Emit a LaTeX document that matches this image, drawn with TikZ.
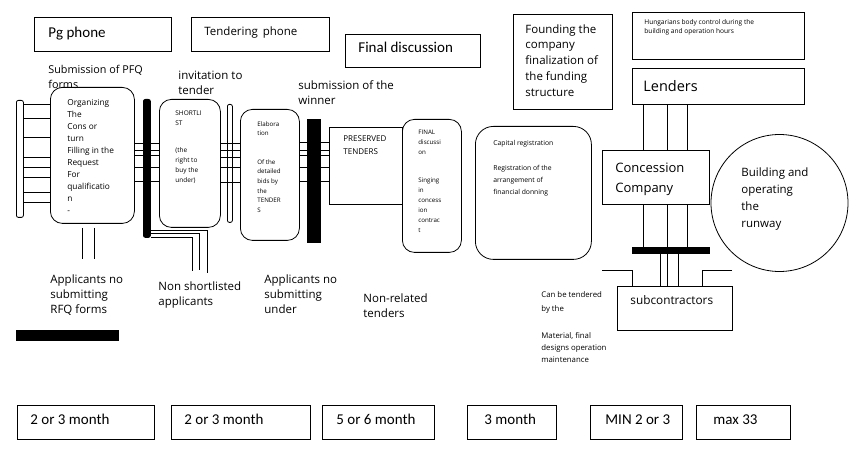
\documentclass[tikz,border=0pt]{standalone}
\usepackage{fontspec}
\setmainfont{Open Sans}
\newfontfamily\calfont{Carlito}
\usetikzlibrary{positioning}

\begin{document}
\begin{tikzpicture}[x=1pt,y=-1pt,line width=0.8pt,
  box/.style={draw,inner sep=0pt,anchor=north west},
  rbox/.style={box,rounded corners=12pt},
  blackbar/.style={box,fill=black,rounded corners=2pt},
  whitebar/.style={box,fill=white,rounded corners=2pt},
  lbl/.style={inner sep=0pt,anchor=north west,align=left},
  big/.style={lbl,font=\fontsize{11.5}{15}\selectfont},
  month/.style={lbl,font=\calfont\fontsize{15}{17}\selectfont}]
 \useasboundingbox (0,0) rectangle (852,457);

 % top row
 \node[box,minimum width=137pt,minimum height=34pt] (pg) at (34,17) {};
 \node[month] (pgtxt) at (48,27) {Pg phone};
 \node[box,minimum width=138pt,minimum height=34pt] (tendph) at (191,17) {};
 \node[lbl,font=\fontsize{11.5}{14}\selectfont] (tendtxt) at (204,26) {Tendering\, phone};
 \node[box,minimum width=135pt,minimum height=33pt] (findisc) at (345,34) {};
 \node[month] (findtxt) at (358,42) {Final discussion};
 \node[box,minimum width=99pt,minimum height=95pt] (found) at (513,14) {};
 \node[lbl,font=\fontsize{11.5}{15.8}\selectfont] (foundtxt) at (525,24)
   {Founding the\\company\\finalization of\\the funding\\structure};
 \node[box,minimum width=172pt,minimum height=47pt] (hung) at (632,12) {};
 \node[lbl,font=\fontsize{6.6}{9.5}\selectfont] (hungtxt) at (644,19)
   {Hungarians body control during the\\building and operation hours};

 % labels above the chain
 \node[lbl,font=\fontsize{10.8}{15}\selectfont] (subpfq) at (48,65) {Submission of PFQ\\forms};
 \node[big] (invit) at (178,71) {invitation to\\tender};
 \node[big] (subwin) at (298,80) {submission of the\\winner};

 % chain
 \node[whitebar,minimum width=7pt,minimum height=117pt] (lbar) at (16,100) {};
 \node[rbox,minimum width=84pt,minimum height=136pt] (org) at (50,87) {};
 \node[lbl,font=\fontsize{8.3}{12}\selectfont] (orgtxt) at (67,99)
   {Organizing\\The\\Cons or\\turn\\Filling in the\\Request\\For\\qualificatio\\n\\-};
 \node[blackbar,minimum width=7pt,minimum height=138pt] (bartwo) at (143,99) {};
 \node[rbox,minimum width=61pt,minimum height=128pt] (short) at (159,99) {};
 \node[lbl,font=\fontsize{6.5}{10}\selectfont] (shorttxt) at (175,110)
   {SHORTLI\\ST\\[17pt](the\\right to\\buy the\\under)};
 \node[whitebar,minimum width=5pt,minimum height=118pt] (barthree) at (227,104) {};
 \node[rbox,minimum width=59pt,minimum height=131pt] (elab) at (240,109) {};
 \node[lbl,font=\fontsize{6.2}{9.6}\selectfont] (elabtxt) at (257,121)
   {Elabora\\tion\\[19pt]Of the\\detailed\\bids by\\the\\TENDER\\S};
 \node[blackbar,rounded corners=0pt,minimum width=13pt,minimum height=123pt] (barfour) at (307,119) {};
 \node[box,minimum width=73pt,minimum height=77pt] (pres) at (329,127) {};
 \node[lbl,font=\fontsize{8}{13}\selectfont] (prestxt) at (343,135) {PRESERVED\\TENDERS};
 \node[rbox,minimum width=59pt,minimum height=133pt] (final) at (402,119) {};
 \node[lbl,font=\fontsize{6.2}{10}\selectfont] (finaltxt) at (418,130)
   {FINAL\\discussi\\on\\[18pt]Singing\\in\\concess\\ion\\contrac\\t};
 \node[box,rounded corners=18pt,minimum width=116pt,minimum height=133pt] (capreg) at (475,126) {};
 \node[lbl,font=\fontsize{6.8}{12}\selectfont] (captxt) at (493,140)
   {Capital registration\\[13pt]Registration of the\\arrangement of\\financial donning};

 \foreach \y in {104,118,137,157,167,177,192,202}
  \draw (lbar.east |- 0,\y) -- (org.west |- 0,\y);
 \foreach \y in {143,150,155,167,181}
  \draw (org.east |- 0,\y) -- (short.west |- 0,\y);
 \foreach \y in {143,150,157,167,182}
  \draw (short.east |- 0,\y) -- (elab.west |- 0,\y);
 \foreach \y in {142,150,155,167,181}
  \draw (elab.east |- 0,\y) -- (pres.west |- 0,\y);

 % applicants dropping out
 \node[big] (appone) at (50,274) {Applicants no\\submitting\\RFQ forms};
 \node[big] (nonshort) at (158,281) {Non shortlisted\\applicants};
 \node[big] (apptwo) at (264,274) {Applicants no\\submitting\\under};
 \node[big] (nonrel) at (363,293) {Non-related\\tenders};
 \draw ([xshift=-10pt,yshift=-4pt]org.south) -- ++(0,31);
 \draw ([xshift=2pt,yshift=-4pt]org.south) -- ++(0,31);
 \draw (bartwo.east |- 0,230) -| (207,273);
 \draw (bartwo.east |- 0,233.5) -| (199,270);
 \draw (bartwo.east |- 0,237) -| (192,271);
 \node[box,fill=black,minimum width=102pt,minimum height=10pt] (blbar) at (16,330) {};

 % company side
 \node[box,minimum width=172pt,minimum height=36pt] (lend) at (632,68) {};
 \node[lbl,font=\fontsize{14.5}{17}\selectfont] (lendtxt) at (643,80) {Lenders};
 \node[box,minimum width=107pt,minimum height=54pt] (conc) at (602,150) {};
 \node[lbl,font=\fontsize{13}{19.5}\selectfont] (conctxt) at (615,163) {Concession\\Company};
 \node[circle,draw,inner sep=0pt,minimum size=137pt] (run) at (779.5,203) {};
 \node[lbl,font=\fontsize{11.5}{17}\selectfont] (runtxt) at (741,167)
   {Building and\\operating\\the\\runway};
 \node[box,fill=black,minimum width=77pt,minimum height=6pt] (cbar) at (632,247) {};
 \node[box,minimum width=115pt,minimum height=44pt] (subc) at (617,286) {};
 \node[lbl,font=\fontsize{11.8}{14}\selectfont] (subctxt) at (630,295) {subcontractors};
 \foreach \x in {643,667,687} {
  \draw (lend.south -| \x,0) -- (conc.north -| \x,0);
  \draw (conc.south -| \x,0) -- (cbar.north -| \x,0);
 }
 \foreach \x in {660,667,678}
  \draw (cbar.south -| \x,0) -- (subc.north -| \x,0);
 \draw (602,270) -| (subc.north -| 632,0);
 \draw (732,270) -| (subc.north -| 702,0);
 \node[lbl,font=\fontsize{7.8}{14}\selectfont] (cantxt) at (541,291) {Can be tendered\\by the};
 \node[lbl,font=\fontsize{7.8}{12}\selectfont] (mattxt) at (541,332)
   {Material, final\\designs operation\\maintenance};

 % durations
 \node[box,minimum width=137pt,minimum height=34pt] (mone) at (17,405) {};
 \node[month] (monetxt) at (30,414) {2 or 3 month};
 \node[box,minimum width=139pt,minimum height=34pt] (mtwo) at (171,405) {};
 \node[month] (mtwotxt) at (184,414) {2 or 3 month};
 \node[box,minimum width=112pt,minimum height=34pt] (mthree) at (322,405) {};
 \node[month] (mthreetxt) at (336,414) {5 or 6 month};
 \node[box,minimum width=89pt,minimum height=34pt] (mfour) at (467,405) {};
 \node[month] (mfourtxt) at (484,414) {3 month};
 \node[box,minimum width=92pt,minimum height=34pt] (mfive) at (590,405) {};
 \node[month] (mfivetxt) at (605,414) {MIN 2 or 3};
 \node[box,minimum width=94pt,minimum height=34pt] (msix) at (696,405) {};
 \node[month] (msixtxt) at (713,414) {max 33};
\end{tikzpicture}
\end{document}
